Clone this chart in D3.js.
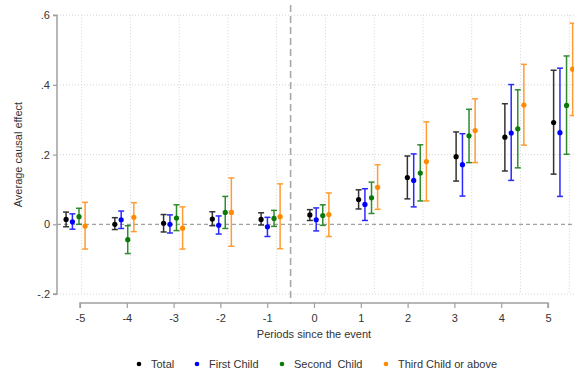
<!DOCTYPE html>
<html>
<head>
<meta charset="utf-8">
<script src="https://cdn.jsdelivr.net/npm/d3@7"></script>
<style>
  html, body { margin: 0; padding: 0; background: #fff; }
  svg { display: block; font-family: "Liberation Sans", Arial, sans-serif; }
</style>
</head>
<body>
<svg id="chart" width="574" height="373"></svg>
<script>
// Event-study estimates with 95% confidence intervals, by birth order
const periods = [-5, -4, -3, -2, -1, 0, 1, 2, 3, 4, 5];
const seriesNames = ["Total", "First Child", "Second  Child", "Third Child or above"];

const totalEst = [0.014, 0.000, 0.003, 0.015, 0.014, 0.027, 0.071, 0.134, 0.194, 0.250, 0.292];
const totalLo  = [-0.007, -0.015, -0.022, -0.004, -0.002, 0.011, 0.044, 0.073, 0.124, 0.153, 0.144];
const totalHi  = [0.035, 0.019, 0.028, 0.036, 0.033, 0.042, 0.099, 0.196, 0.265, 0.346, 0.442];

const firstEst = [0.007, 0.013, 0.000, -0.003, -0.007, 0.013, 0.057, 0.126, 0.171, 0.262, 0.263];
const firstLo  = [-0.014, -0.012, -0.025, -0.028, -0.035, -0.019, 0.011, 0.050, 0.081, 0.126, 0.080];
const firstHi  = [0.030, 0.038, 0.027, 0.024, 0.020, 0.047, 0.102, 0.202, 0.260, 0.401, 0.448];

const secondEst = [0.022, -0.044, 0.018, 0.034, 0.017, 0.025, 0.076, 0.147, 0.254, 0.274, 0.341];
const secondLo  = [0.000, -0.084, -0.018, -0.012, -0.006, -0.003, 0.031, 0.067, 0.177, 0.162, 0.201];
const secondHi  = [0.046, -0.004, 0.056, 0.080, 0.040, 0.056, 0.121, 0.228, 0.330, 0.386, 0.483];

const thirdEst = [-0.005, 0.020, -0.011, 0.034, 0.022, 0.028, 0.106, 0.180, 0.269, 0.342, 0.445];
const thirdLo  = [-0.071, -0.021, -0.071, -0.063, -0.070, -0.035, 0.043, 0.067, 0.177, 0.227, 0.312];
const thirdHi  = [0.063, 0.062, 0.050, 0.133, 0.116, 0.090, 0.171, 0.294, 0.360, 0.459, 0.577];

const yTicks = [-0.2, 0, 0.2, 0.4, 0.6];
const yTickLabels = ["-.2", "0", ".2", ".4", ".6"];
const xTicks = periods;
const xTickLabels = ["-5", "-4", "-3", "-2", "-1", "0", "1", "2", "3", "4", "5"];

const series = [
  { name: seriesNames[0], est: totalEst,  lo: totalLo,  hi: totalHi,  bar: "#333333", dot: "#000000", shift: -0.32 },
  { name: seriesNames[1], est: firstEst,  lo: firstLo,  hi: firstHi,  bar: "#2a2aff", dot: "#0000ff", shift: -0.19 },
  { name: seriesNames[2], est: secondEst, lo: secondLo, hi: secondHi, bar: "#2e8b2e", dot: "#0a7a0a", shift: -0.055 },
  { name: seriesNames[3], est: thirdEst,  lo: thirdLo,  hi: thirdHi,  bar: "#ff9c33", dot: "#ff8a00", shift: 0.07 }
];

const svg = d3.select("#chart");

// Plot-region scale (markers and grid) and the labelled period axis underneath
const xPlot = d3.scaleLinear().domain([-5.5, 5.5]).range([57.3, 593.6]);
const xAxisScale = d3.scaleLinear().domain([-5, 5]).range([80, 548]);
const y = d3.scaleLinear().domain([-0.2, 0.6]).range([294, 15.2]);

const plotLeft = 57, plotRight = 574;

// Grid lines
const grid = svg.append("g");
grid.selectAll("line.h").data(yTicks.filter(d => d !== 0)).join("line")
  .attr("x1", plotLeft).attr("x2", plotRight)
  .attr("y1", d => y(d)).attr("y2", d => y(d))
  .attr("stroke", "#d4d4d4").attr("stroke-width", 1).attr("stroke-dasharray", "1,2");
grid.selectAll("line.v").data(periods).join("line")
  .attr("x1", d => xPlot(d)).attr("x2", d => xPlot(d))
  .attr("y1", y(0.6)).attr("y2", y(-0.2))
  .attr("stroke", "#d4d4d4").attr("stroke-width", 1).attr("stroke-dasharray", "1,2");

// Reference lines: zero effect and the event onset
svg.append("line")
  .attr("x1", plotLeft).attr("x2", plotRight)
  .attr("y1", y(0)).attr("y2", y(0))
  .attr("stroke", "#a0a0a0").attr("stroke-width", 1.2).attr("stroke-dasharray", "4,3");
svg.append("line")
  .attr("x1", xAxisScale(-0.5)).attr("x2", xAxisScale(-0.5))
  .attr("y1", 5).attr("y2", 304)
  .attr("stroke", "#a8a8a8").attr("stroke-width", 1.6).attr("stroke-dasharray", "7,4");

// Y axis
const yAxis = d3.axisLeft(y).tickValues(yTicks)
  .tickFormat((d, i) => yTickLabels[i]).tickSize(4).tickPadding(3);
const gy = svg.append("g").attr("transform", `translate(${plotLeft},0)`).call(yAxis);
gy.select(".domain").attr("stroke", "#a0a0a0").attr("stroke-width", 1.5)
  .attr("d", `M-4,${y(0.6)}H0V${y(-0.2)}H-4`);
gy.selectAll(".tick line").attr("stroke", "#a0a0a0").attr("stroke-width", 1.2);
gy.selectAll(".tick text").attr("fill", "#333").attr("font-size", 11);

// X axis
const xAxis = d3.axisBottom(xAxisScale).tickValues(xTicks)
  .tickFormat((d, i) => xTickLabels[i]).tickSize(5).tickPadding(6);
const gx = svg.append("g").attr("transform", "translate(0,303)").call(xAxis);
gx.select(".domain").attr("stroke", "#a0a0a0").attr("stroke-width", 1.5)
  .attr("d", `M${xAxisScale(-5)},5V0H${xAxisScale(5)}V5`);
gx.selectAll(".tick line").attr("stroke", "#a0a0a0").attr("stroke-width", 1.2);
gx.selectAll(".tick text").attr("fill", "#333").attr("font-size", 11);

// Axis titles
svg.append("text")
  .attr("transform", `translate(22,${(y(0.6) + y(-0.2)) / 2}) rotate(-90)`)
  .attr("text-anchor", "middle").attr("fill", "#333").attr("font-size", 11)
  .text("Average causal effect");
svg.append("text")
  .attr("x", xAxisScale(0)).attr("y", 338)
  .attr("text-anchor", "middle").attr("fill", "#333").attr("font-size", 11)
  .text("Periods since the event");

// Confidence intervals and point estimates
const capW = 3;
series.forEach(s => {
  const g = svg.append("g");
  const rows = periods.map((p, i) => ({ x: xPlot(p + s.shift), est: s.est[i], lo: s.lo[i], hi: s.hi[i] }));
  g.selectAll("line.ci").data(rows).join("line")
    .attr("x1", d => d.x).attr("x2", d => d.x)
    .attr("y1", d => y(d.lo)).attr("y2", d => y(d.hi))
    .attr("stroke", s.bar).attr("stroke-width", 1.5);
  g.selectAll("line.capHi").data(rows).join("line")
    .attr("x1", d => d.x - capW).attr("x2", d => d.x + capW)
    .attr("y1", d => y(d.hi)).attr("y2", d => y(d.hi))
    .attr("stroke", s.bar).attr("stroke-width", 1.5);
  g.selectAll("line.capLo").data(rows).join("line")
    .attr("x1", d => d.x - capW).attr("x2", d => d.x + capW)
    .attr("y1", d => y(d.lo)).attr("y2", d => y(d.lo))
    .attr("stroke", s.bar).attr("stroke-width", 1.5);
  g.selectAll("circle").data(rows).join("circle")
    .attr("cx", d => d.x).attr("cy", d => y(d.est)).attr("r", 2.6)
    .attr("fill", s.dot);
});

// Legend
const legendDotX = [139, 197, 282, 386];
const legend = svg.append("g");
series.forEach((s, i) => {
  legend.append("circle").attr("cx", legendDotX[i]).attr("cy", 364).attr("r", 2.3).attr("fill", s.dot);
  legend.append("text").attr("x", legendDotX[i] + 12).attr("y", 368)
    .attr("fill", "#333").attr("font-size", 11).style("white-space", "pre")
    .text(s.name);
});
</script>
</body>
</html>
